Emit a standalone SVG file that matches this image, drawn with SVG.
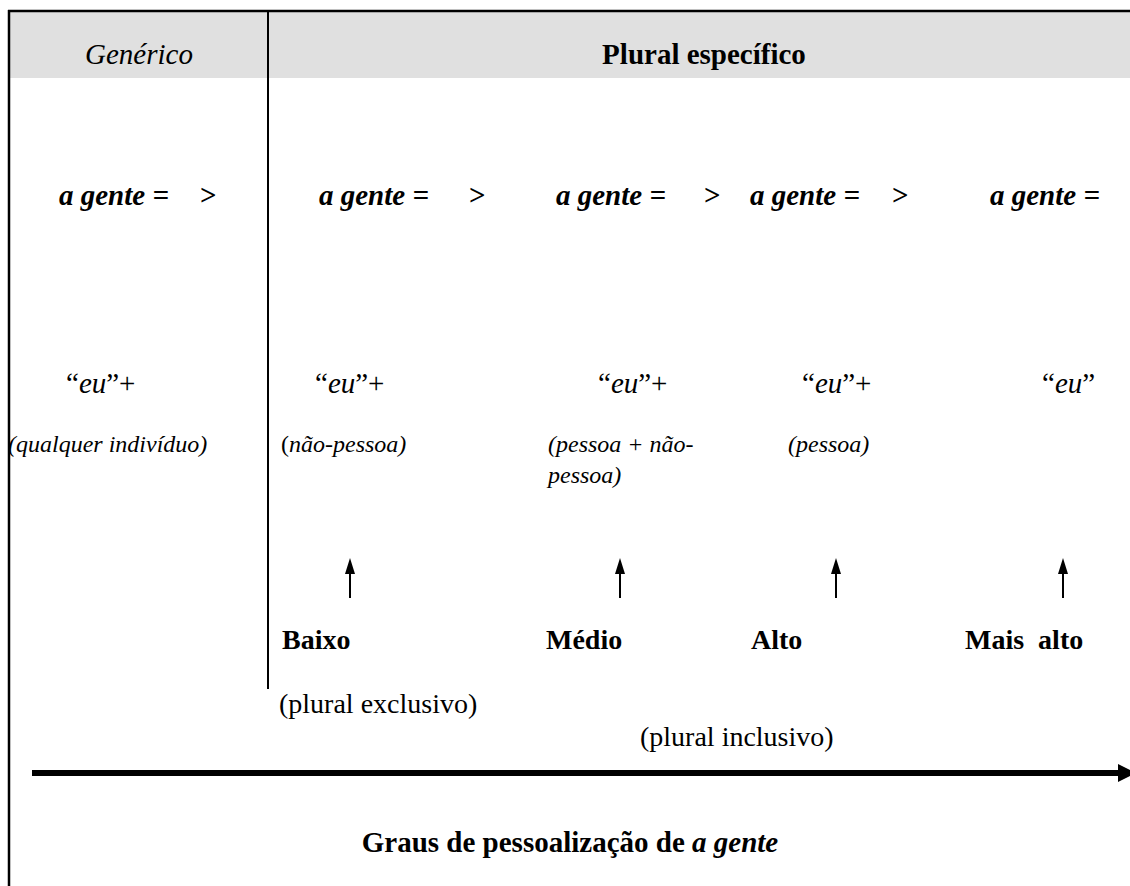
<svg xmlns="http://www.w3.org/2000/svg" width="1130" height="886" viewBox="0 0 1130 886">
<style>
text{font-family:"Liberation Serif","Times New Roman",serif;fill:#000}
.hd{font-size:29px}
.ag{font-size:29px;font-weight:bold;font-style:italic}
.gt{font-size:29px;font-weight:bold}
.eu{font-size:29px}
.it{font-style:italic}
.pr{font-size:24px;font-style:italic}
.lv{font-size:28px;font-weight:bold}
.pl{font-size:28px}
.ar{stroke:#000;stroke-width:2;fill:none}
.hh{fill:#000}
</style>
<rect x="0" y="0" width="1130" height="886" fill="#fff"/>
<g id="frame">
<rect x="9" y="11" width="1121" height="67" fill="#e0e0e0"/>
<line x1="8" y1="11" x2="1130" y2="11" stroke="#000" stroke-width="2.5"/>
<line x1="9" y1="10" x2="9" y2="886" stroke="#000" stroke-width="2.5"/>
<line x1="268" y1="10" x2="268" y2="689" stroke="#000" stroke-width="2"/>
</g>
<g id="headers">
<text class="hd it" x="139" y="64" text-anchor="middle">Genérico</text>
<text class="hd" x="704" y="64" text-anchor="middle" font-weight="bold">Plural específico</text>
</g>
<g id="row-agente">
<text class="ag" x="59" y="205">a gente =</text><text class="gt" x="200" y="205">&gt;</text>
<text class="ag" x="319" y="205">a gente =</text><text class="gt" x="469" y="205">&gt;</text>
<text class="ag" x="556" y="205">a gente =</text><text class="gt" x="704" y="205">&gt;</text>
<text class="ag" x="750" y="205">a gente =</text><text class="gt" x="892" y="205">&gt;</text>
<text class="ag" x="990" y="205">a gente =</text>
</g>
<g id="generico">
<text class="eu" x="66" y="393">“<tspan class="it">eu</tspan>”+</text>
<text class="pr" x="8" y="452">(qualquer indivíduo)</text>
</g>
<g id="baixo">
<text class="eu" x="315" y="393">“<tspan class="it">eu</tspan>”+</text>
<text class="pr" x="281" y="452"><tspan font-style="normal">(</tspan>não-pessoa)</text>
<text class="lv" x="282" y="649">Baixo</text>
</g>
<g id="medio">
<text class="eu" x="598" y="393">“<tspan class="it">eu</tspan>”+</text>
<text class="pr" x="548" y="452">(pessoa + não-</text>
<text class="pr" x="548" y="483">pessoa)</text>
<text class="lv" x="546" y="649">Médio</text>
</g>
<g id="alto">
<text class="eu" x="802" y="393">“<tspan class="it">eu</tspan>”+</text>
<text class="pr" x="788" y="452">(pessoa)</text>
<text class="lv" x="751" y="649">Alto</text>
</g>
<g id="maisalto">
<text class="eu" x="1042" y="393">“<tspan class="it">eu</tspan>”</text>
<text class="lv" x="965" y="649" xml:space="preserve">Mais  alto</text>
</g>
<g id="plurals">
<text class="pl" x="279" y="713">(plural exclusivo)</text>
<text class="pl" x="640" y="746">(plural inclusivo)</text>
</g>
<g id="connectors">
<line class="ar" x1="350" y1="598" x2="350" y2="572"/>
<path class="hh" d="M350,558 L355,574 L345,574 Z"/>
<line class="ar" x1="620" y1="598" x2="620" y2="572"/>
<path class="hh" d="M620,558 L625,574 L615,574 Z"/>
<line class="ar" x1="836" y1="598" x2="836" y2="572"/>
<path class="hh" d="M836,558 L841,574 L831,574 Z"/>
<line class="ar" x1="1063" y1="598" x2="1063" y2="572"/>
<path class="hh" d="M1063,558 L1068,574 L1058,574 Z"/>
<line x1="32" y1="773" x2="1120" y2="773" stroke="#000" stroke-width="6"/>
<path class="hh" d="M1118,764 L1136,773 L1118,782 Z"/>
</g>
<g id="title">
<text class="gt" x="570" y="852" text-anchor="middle">Graus de pessoalização de <tspan font-style="italic">a gente</tspan></text>
</g>
</svg>
